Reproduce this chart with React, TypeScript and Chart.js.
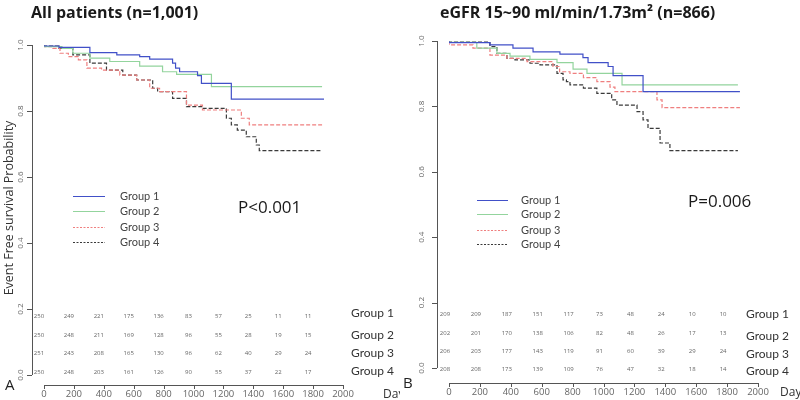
import React, { useEffect, useRef } from "react";
import { Chart, registerables } from "chart.js";

Chart.register(...registerables);

// ---------- DATA ----------
const groupNames = ["Group 1", "Group 2", "Group 3", "Group 4"];
const riskDays = [0, 200, 400, 600, 800, 1000, 1200, 1400, 1600, 1800];
const xTicks = [0, 200, 400, 600, 800, 1000, 1200, 1400, 1600, 1800, 2000];
const yTicks = [0, 0.2, 0.4, 0.6, 0.8, 1.0];

// Left panel: All patients
const leftG1Days = [0, 100, 307, 487, 640, 707, 860, 880, 907, 1027, 1053, 1253, 1520, 1873];
const leftG1Surv = [1, 0.997, 0.993, 0.977, 0.97, 0.965, 0.957, 0.945, 0.93, 0.919, 0.907, 0.884, 0.836, 0.836];
const leftG2Days = [0, 120, 193, 307, 440, 640, 793, 887, 1120, 1510, 1860];
const leftG2Surv = [1, 0.995, 0.99, 0.975, 0.96, 0.95, 0.936, 0.919, 0.911, 0.874, 0.874];
const leftG3Days = [0, 60, 107, 163, 230, 287, 385, 507, 620, 707, 773, 953, 1060, 1320, 1373, 1407, 1860];
const leftG3Surv = [1, 0.995, 0.99, 0.975, 0.965, 0.955, 0.93, 0.924, 0.909, 0.894, 0.869, 0.859, 0.818, 0.803, 0.778, 0.758, 0.758];
const leftG4Days = [0, 100, 193, 307, 418, 527, 620, 727, 760, 860, 953, 1060, 1220, 1253, 1293, 1353, 1420, 1440, 1487, 1860];
const leftG4Surv = [1, 0.997, 0.99, 0.97, 0.945, 0.924, 0.909, 0.894, 0.869, 0.859, 0.838, 0.813, 0.808, 0.778, 0.758, 0.742, 0.722, 0.697, 0.68, 0.68];

const leftRiskG1 = [250, 249, 221, 175, 136, 83, 57, 25, 11, 11];
const leftRiskG2 = [250, 248, 211, 169, 128, 96, 55, 28, 19, 15];
const leftRiskG3 = [251, 243, 208, 165, 130, 96, 62, 40, 29, 24];
const leftRiskG4 = [250, 248, 203, 161, 126, 90, 55, 37, 22, 17];

// Right panel: eGFR 15~90
const rightG1Days = [0, 265, 414, 544, 718, 867, 900, 1030, 1062, 1256, 1527, 1883];
const rightG1Surv = [1, 0.995, 0.988, 0.978, 0.967, 0.96, 0.949, 0.934, 0.922, 0.894, 0.845, 0.845];
const rightG2Days = [0, 180, 310, 395, 524, 699, 803, 893, 1120, 1515, 1870];
const rightG2Surv = [1, 0.996, 0.978, 0.962, 0.954, 0.944, 0.934, 0.914, 0.901, 0.866, 0.866];
const rightG3Days = [0, 155, 265, 375, 505, 673, 716, 783, 870, 957, 1042, 1074, 1346, 1379, 1417, 1883];
const rightG3Surv = [1, 0.988, 0.978, 0.957, 0.947, 0.937, 0.922, 0.906, 0.901, 0.888, 0.876, 0.859, 0.845, 0.82, 0.796, 0.796];
const rightG4Days = [0, 265, 310, 375, 427, 524, 589, 699, 738, 760, 783, 870, 957, 1053, 1087, 1217, 1256, 1288, 1366, 1430, 1482, 1870];
const rightG4Surv = [1, 0.997, 0.983, 0.962, 0.947, 0.942, 0.932, 0.927, 0.901, 0.881, 0.876, 0.866, 0.856, 0.84, 0.82, 0.804, 0.784, 0.759, 0.733, 0.688, 0.665, 0.665];

const rightRiskG1 = [209, 209, 187, 151, 117, 73, 48, 24, 10, 10];
const rightRiskG2 = [202, 201, 170, 138, 106, 82, 48, 26, 17, 13];
const rightRiskG3 = [206, 203, 177, 143, 119, 91, 60, 39, 29, 24];
const rightRiskG4 = [208, 208, 173, 139, 109, 76, 47, 32, 18, 14];

// ---------- STYLE ----------
const groupColors = ["#4150c8", "#93d49d", "#ef7f7f", "#3a3a3a"];
const groupDash: number[][] = [[], [], [4, 2], [4, 2]];
const FONT = "'Open Sans', 'Noto Sans', sans-serif";
const LFONT = "Lato, 'Open Sans', sans-serif";

type Panel = {
  title: string;
  pText: string;
  letter: string;
  showYTitle: boolean;
  days: number[][];
  surv: number[][];
  risk: number[][];
  pad: { left: number; right: number; top: number; bottom: number };
  yAxisX: number;
  xAxisY: number;
  yTickLabelX: number;
  xTickLabelY: number;
  titleX: number;
  letterPos: [number, number];
  daysPos: [number, number];
  legendX1: number;
  legendX2: number;
  legendLabelX: number;
  legendY: number[];
  pPos: [number, number];
  riskY: number[];
  riskDX: number;
  groupLabelX: number;
  groupLabelY: number[];
};

const leftPanel: Panel = {
  title: "All patients (n=1,001)",
  pText: "P<0.001",
  letter: "A",
  showYTitle: true,
  days: [leftG1Days, leftG2Days, leftG3Days, leftG4Days],
  surv: [leftG1Surv, leftG2Surv, leftG3Surv, leftG4Surv],
  risk: [leftRiskG1, leftRiskG2, leftRiskG3, leftRiskG4],
  pad: { left: 44, right: 57, top: 45, bottom: 25 },
  yAxisX: 32,
  xAxisY: 385,
  yTickLabelX: 21,
  xTickLabelY: 394,
  titleX: 31,
  letterPos: [5, 386],
  daysPos: [383, 395],
  legendX1: 73,
  legendX2: 105,
  legendLabelX: 120,
  legendY: [196, 211, 227, 242],
  pPos: [238, 208],
  riskY: [316, 335, 353, 372],
  riskDX: -5,
  groupLabelX: 351,
  groupLabelY: [313, 335, 353, 371],
};

const rightPanel: Panel = {
  title: "eGFR 15~90 ml/min/1.73m\u00B2 (n=866)",
  pText: "P=0.006",
  letter: "B",
  showYTitle: false,
  days: [rightG1Days, rightG2Days, rightG3Days, rightG4Days],
  surv: [rightG1Surv, rightG2Surv, rightG3Surv, rightG4Surv],
  risk: [rightRiskG1, rightRiskG2, rightRiskG3, rightRiskG4],
  pad: { left: 49, right: 42, top: 41, bottom: 32 },
  yAxisX: 37,
  xAxisY: 383,
  yTickLabelX: 22,
  xTickLabelY: 392,
  titleX: 40,
  letterPos: [3, 384],
  daysPos: [380, 393],
  legendX1: 77,
  legendX2: 108,
  legendLabelX: 121,
  legendY: [200, 214, 230, 244],
  pPos: [288, 202],
  riskY: [314, 333, 351, 369],
  riskDX: -4,
  groupLabelX: 346,
  groupLabelY: [314, 336, 354, 371],
};

function decorPlugin(p: Panel) {
  return {
    id: "decor",
    afterDraw(chart: any) {
      const ctx: CanvasRenderingContext2D = chart.ctx;
      const xs = chart.scales.x;
      const ys = chart.scales.y;
      ctx.save();
      // axes
      ctx.strokeStyle = "#555";
      ctx.lineWidth = 1;
      ctx.beginPath();
      ctx.moveTo(p.yAxisX + 0.5, ys.getPixelForValue(0));
      ctx.lineTo(p.yAxisX + 0.5, ys.getPixelForValue(1));
      yTicks.forEach((t) => {
        const py = Math.round(ys.getPixelForValue(t)) + 0.5;
        ctx.moveTo(p.yAxisX, py);
        ctx.lineTo(p.yAxisX - 5, py);
      });
      ctx.moveTo(xs.getPixelForValue(0), p.xAxisY + 0.5);
      ctx.lineTo(xs.getPixelForValue(2000), p.xAxisY + 0.5);
      xTicks.forEach((t) => {
        const px = Math.round(xs.getPixelForValue(t)) + 0.5;
        ctx.moveTo(px, p.xAxisY);
        ctx.lineTo(px, p.xAxisY + 4);
      });
      ctx.stroke();

      // y tick labels (rotated)
      ctx.fillStyle = "#666";
      ctx.font = `8px ${FONT}`;
      ctx.textAlign = "center";
      ctx.textBaseline = "middle";
      yTicks.forEach((t) => {
        ctx.save();
        ctx.translate(p.yTickLabelX, ys.getPixelForValue(t));
        ctx.rotate(-Math.PI / 2);
        ctx.fillText(t.toFixed(1), 0, 0);
        ctx.restore();
      });
      // x tick labels
      ctx.font = `9.5px ${FONT}`;
      xTicks.forEach((t) => {
        ctx.fillText(String(t), xs.getPixelForValue(t), p.xTickLabelY);
      });

      // Days
      ctx.fillStyle = "#333";
      ctx.font = `12px ${FONT}`;
      ctx.textAlign = "left";
      ctx.fillText("Days", p.daysPos[0], p.daysPos[1]);

      // panel letter
      ctx.font = `15px ${FONT}`;
      ctx.fillStyle = "#222";
      ctx.fillText(p.letter, p.letterPos[0], p.letterPos[1]);

      // title
      ctx.font = `bold 16px ${FONT}`;
      ctx.fillStyle = "#1a1a1a";
      ctx.fillText(p.title, p.titleX, 13);

      // y title
      if (p.showYTitle) {
        ctx.save();
        ctx.translate(9, 208);
        ctx.rotate(-Math.PI / 2);
        ctx.textAlign = "center";
        ctx.font = `12.5px ${FONT}`;
        ctx.fillStyle = "#333";
        ctx.fillText("Event Free survival Probability", 0, 0);
        ctx.restore();
      }

      // legend
      groupNames.forEach((g, i) => {
        ctx.save();
        ctx.strokeStyle = groupColors[i];
        ctx.setLineDash(groupDash[i].length ? [2, 1.5] : []);
        ctx.lineWidth = 1;
        ctx.beginPath();
        ctx.moveTo(p.legendX1, p.legendY[i] + 0.5);
        ctx.lineTo(p.legendX2, p.legendY[i] + 0.5);
        ctx.stroke();
        ctx.restore();
        ctx.fillStyle = "#444";
        ctx.font = `11px ${LFONT}`;
        ctx.textAlign = "left";
        ctx.fillText(g, p.legendLabelX, p.legendY[i]);
      });

      // P value
      ctx.font = `17px ${FONT}`;
      ctx.fillStyle = "#1a1a1a";
      ctx.textAlign = "left";
      ctx.fillText(p.pText, p.pPos[0], p.pPos[1]);

      // number at risk
      ctx.font = `6px ${FONT}`;
      ctx.fillStyle = "#666";
      ctx.textAlign = "center";
      p.risk.forEach((row, gi) => {
        row.forEach((n, k) => {
          ctx.fillText(String(n), xs.getPixelForValue(riskDays[k]) + p.riskDX, p.riskY[gi]);
        });
      });
      ctx.font = `12px ${LFONT}`;
      ctx.fillStyle = "#333";
      ctx.textAlign = "left";
      groupNames.forEach((g, i) => {
        ctx.fillText(g, p.groupLabelX, p.groupLabelY[i]);
      });
      ctx.restore();
    },
  };
}

function KMPanel({ panel, left }: { panel: Panel; left: number }) {
  const ref = useRef<HTMLCanvasElement | null>(null);
  useEffect(() => {
    if (!ref.current) return;
    const datasets = groupNames.map((g, i) => ({
      label: g,
      data: panel.days[i].map((d, k) => ({ x: d, y: panel.surv[i][k] })),
      borderColor: groupColors[i],
      borderDash: groupDash[i],
      borderWidth: 1.2,
      pointRadius: 0,
      stepped: "after" as const,
      fill: false,
    }));
    const chart = new Chart(ref.current, {
      type: "line",
      data: { datasets },
      options: {
        animation: false,
        responsive: false,
        devicePixelRatio: 1,
        layout: { padding: panel.pad },
        plugins: { legend: { display: false }, tooltip: { enabled: false }, title: { display: false } },
        scales: {
          x: { type: "linear", min: 0, max: 2000, display: false },
          y: { type: "linear", min: 0, max: 1, display: false },
        },
      },
      plugins: [decorPlugin(panel)],
    });
    return () => chart.destroy();
  }, [panel]);
  return (
    <canvas
      ref={ref}
      width={400}
      height={400}
      style={{ position: "absolute", left, top: 0, width: 400, height: 400, display: "block" }}
    />
  );
}

export default function App() {
  return (
    <div style={{ position: "absolute", left: 0, top: 0, width: 800, height: 400, background: "#fff", overflow: "hidden" }}>
      <KMPanel panel={leftPanel} left={0} />
      <KMPanel panel={rightPanel} left={400} />
    </div>
  );
}
